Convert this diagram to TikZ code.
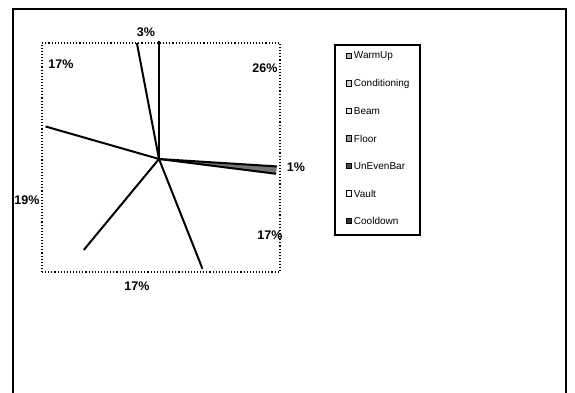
\documentclass[tikz,border=0pt]{standalone}
\usepackage{fontspec}
\setmainfont{Liberation Sans}
\usetikzlibrary{positioning}

\begin{document}
\begin{tikzpicture}[x=1pt, y=1pt,
        frame/.style={draw=black, line width=1.6pt},
        plotarea/.style={draw=black, dotted, line width=1.1pt, inner sep=0pt, minimum width=238pt, minimum height=229pt},
        spoke/.style={draw=black, line width=2pt},
        pct/.style={font=\fontsize{12.5}{13}\selectfont\bfseries, inner sep=0pt},
        legbox/.style={rectangle, draw=black, line width=1.3pt, minimum width=85pt, minimum height=190pt},
        legkey/.style={rectangle, draw=black, line width=1pt, minimum size=5.5pt, inner sep=0pt},
        legtext/.style={font=\fontsize{10}{11}\selectfont, inner sep=0pt}
    ]
        \useasboundingbox (0,0) rectangle (575,-393);
        % Frame
        \draw[frame] (13,-393) |- (566,-9) -- (566,-393);
        \node[plotarea] (plot) at (161,-157.5) {};
        % Pie
        \coordinate (c) at (159,-159);
        \foreach \a [count=\i] in {90,-3.6,-7.2,-68.4,-129.6,-196,-259.2}
            \coordinate (b\i) at ([shift={(\a:118)}]c);
        \fill[black!55] (c) -- (b2) -- (b3) -- cycle;
        \foreach \i in {1,...,7}
            \draw[spoke] (c) -- (b\i);
        % Percentages
        \node[pct] (pwarm) at (265,-68) {26\%};
        \node[pct] (pcond) at (296,-167) {1\%};
        \node[pct] (pbeam) at (270,-235) {17\%};
        \node[pct] (pfloor) at (137,-286) {17\%};
        \node[pct] (pbar) at (27,-200) {19\%};
        \node[pct] (pvault) at (61,-64) {17\%};
        \node[pct] (pcool) at (146,-32) {3\%};
        % Legend
        \node[legbox] (legend) at (377.5,-140) {};
        \foreach \name/\shade [count=\i] in {WarmUp/black!30, Conditioning/black!20, Beam/black!10, Floor/black!40, UnEvenBar/black!70, Vault/white, Cooldown/black!80} {
            \pgfmathsetmacro\ky{-56-27.5*(\i-1)}
            \node[legkey, fill=\shade] (key\i) at (349,\ky) {};
            \node[legtext, right=1.5pt of key\i] (lab\i) {\name};
        }
    \end{tikzpicture}
\end{document}
